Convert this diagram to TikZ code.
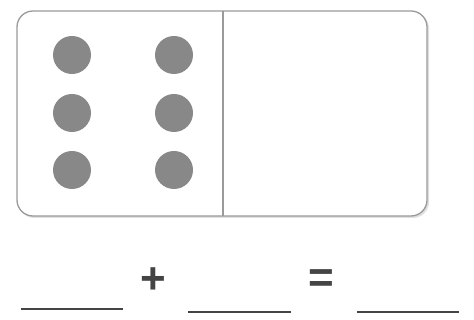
\documentclass[tikz,border=0pt]{standalone}
\usepackage{fontspec}
\setmainfont{Liberation Sans}
\definecolor{edgegray}{HTML}{9A9A9A}
\definecolor{dotgray}{HTML}{888888}
\definecolor{linegray}{HTML}{444444}
\begin{document}
\begin{tikzpicture}[x=1pt,y=-1pt,
  pip/.style={circle,fill=dotgray,minimum size=38pt,inner sep=0pt},
  blank/.style={draw=linegray,line width=2pt},
  sym/.style={font=\bfseries\fontsize{44}{44}\selectfont,text=linegray,inner sep=0pt}]
\useasboundingbox (0,0) rectangle (474,320);
% shadow
\fill[black!12,rounded corners=16pt] (18.5,12.5) rectangle (429,218);
\filldraw[fill=white,draw=edgegray,line width=1.3pt,rounded corners=16pt] (17,11) rectangle (427,216);
\coordinate (dt) at (223,11);
\coordinate (db) at (223,216);
\draw[edgegray,line width=1.3pt] (dt) -- (db);
\foreach \x/\c in {72/a,174/b} \foreach \y/\r in {55/1,113/2,170/3}
  \node[pip] (p\c\r) at (\x,\y) {};
% equation
\coordinate (l1a) at (21,309); \coordinate (l1b) at (123,309);
\coordinate (l2a) at (188,312); \coordinate (l2b) at (291,312);
\coordinate (l3a) at (357,312); \coordinate (l3b) at (459,312);
\draw[blank] (l1a) -- (l1b);
\draw[blank] (l2a) -- (l2b);
\draw[blank] (l3a) -- (l3b);
\node[sym] (plus) at (153,281) {+};
\node[sym] (eq) at (321,281) {=};
\end{tikzpicture}
\end{document}
